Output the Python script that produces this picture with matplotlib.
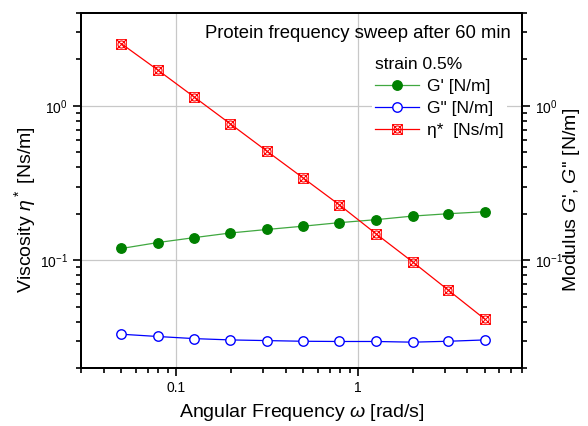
import numpy as np
import matplotlib
matplotlib.use('Agg')
import matplotlib.pyplot as plt
from matplotlib.path import Path
from matplotlib.ticker import NullFormatter, FixedLocator, FixedFormatter

plt.rcParams['font.family'] = ['Liberation Sans', 'DejaVu Sans']
plt.rcParams['mathtext.fontset'] = 'custom'
plt.rcParams['mathtext.rm'] = 'Liberation Sans'
plt.rcParams['mathtext.it'] = 'Liberation Sans:italic'

# angular frequency [rad/s]
omega = [0.05, 0.0792, 0.126, 0.199, 0.315, 0.5, 0.792, 1.26, 2.0, 3.15, 5.0]
# storage modulus G' [N/m]
g_storage = [0.119, 0.130, 0.140, 0.150, 0.158, 0.166, 0.175, 0.183, 0.193, 0.200, 0.206]
# loss modulus G'' [N/m]
g_loss = [0.0331, 0.0320, 0.0310, 0.0304, 0.0301, 0.0298, 0.0297, 0.0297, 0.0294, 0.0298, 0.0304]
# complex viscosity eta* [Ns/m]
eta = [2.53, 1.71, 1.14, 0.764, 0.51, 0.341, 0.228, 0.148, 0.0975, 0.0638, 0.0414]

x_ticks = [0.1, 1]
x_ticklabels = ['0.1', '1']

# crossed square with circle marker
sq = Path([(-1, -1), (1, -1), (1, 1), (-1, 1), (-1, -1)],
          [Path.MOVETO, Path.LINETO, Path.LINETO, Path.LINETO, Path.CLOSEPOLY])
circ = Path.circle((0, 0), 0.72)
cross = Path([(-1, -1), (1, 1), (-1, 1), (1, -1)],
             [Path.MOVETO, Path.LINETO, Path.MOVETO, Path.LINETO])
xmark = Path.make_compound_path(sq, circ, cross)

fig = plt.figure(figsize=(5.88, 4.26), dpi=100)
ax = fig.add_axes([0.1378, 0.1362, 0.75, 0.8333])

ax.plot(omega, g_storage, '-', color='#40a840', lw=0.9, marker='o', ms=6.8,
        mfc='#008000', mec='#008000', label="G' [N/m]")
ax.plot(omega, g_loss, '-', color='#0000ff', lw=0.9, marker='o', ms=6.8,
        mfc='white', mec='#0000ff', mew=1.0, label='G" [N/m]')
ax.plot(omega, eta, '-', color='#ff0000', lw=0.9, marker=xmark, ms=7,
        mfc='none', mec='#ff0000', mew=0.7, label='η*  [Ns/m]')

ax.set_xscale('log')
ax.set_yscale('log')
ax.set_xlim(0.03, 8)
ax.set_ylim(0.02, 4)
ax.grid(True, which='major', color='#c8c8c8', lw=0.9)
ax.set_axisbelow(True)

ax.xaxis.set_major_locator(FixedLocator(x_ticks))
ax.xaxis.set_major_formatter(FixedFormatter(x_ticklabels))

for s in ax.spines.values():
    s.set_linewidth(1.4)
ax.tick_params(which='both', direction='out', top=False, right=False,
               labelsize=10, width=1.2)
ax.tick_params(which='major', length=6)
ax.tick_params(which='minor', length=3.5)
ax.yaxis.set_minor_formatter(NullFormatter())
ax.xaxis.set_minor_formatter(NullFormatter())

ax2 = ax.twinx()
ax2.set_yscale('log')
ax2.set_ylim(0.02, 4)
ax2.tick_params(which='both', direction='out', labelsize=10, width=1.2)
ax2.tick_params(which='major', length=6)
ax2.tick_params(which='minor', length=3.5)
ax2.yaxis.set_minor_formatter(NullFormatter())
for s in ax2.spines.values():
    s.set_linewidth(1.4)

ax.set_xlabel(r'Angular Frequency $\omega$ [rad/s]', fontsize=14, labelpad=5)
ax.set_ylabel(r'Viscosity $\eta^*$ [Ns/m]', fontsize=14)
ax.yaxis.set_label_coords(-0.097, 0.445)
ax2.set_ylabel("Modulus $G$', $G$'' [N/m]", fontsize=14)
ax2.yaxis.set_label_coords(1.088, 0.473)

ax.text(0.975, 0.965, 'Protein frequency sweep after 60 min', transform=ax.transAxes,
        ha='right', va='top', fontsize=13.3)

leg = ax.legend(loc='upper right', bbox_to_anchor=(0.985, 0.91), title='strain 0.5%',
                fontsize=12.5, title_fontsize=12.5, numpoints=1, handlelength=2.5,
                handletextpad=0.45, labelspacing=0.4, borderpad=0.2,
                frameon=True, fancybox=False, edgecolor='none', framealpha=1,
                alignment='left')

fig.savefig('out.png', dpi=100)
